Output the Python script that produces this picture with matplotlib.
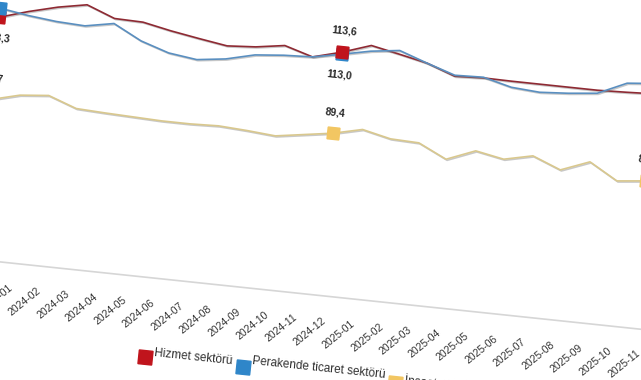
import matplotlib
matplotlib.use("Agg")
import matplotlib.pyplot as plt
import matplotlib.patheffects as pe
from matplotlib.transforms import Affine2D

plt.rcParams["font.family"] = ["Liberation Sans", "DejaVu Sans"]

months = ["2023-12", "2024-01", "2024-02", "2024-03", "2024-04", "2024-05",
          "2024-06", "2024-07", "2024-08", "2024-09", "2024-10", "2024-11",
          "2024-12", "2025-01", "2025-02", "2025-03", "2025-04", "2025-05",
          "2025-06", "2025-07", "2025-08", "2025-09", "2025-10", "2025-11"]

# sektorel guven endeksleri (okunan degerler)
hizmet = [113.3, 115.9, 118.1, 119.7, 116.5, 116.3, 114.6, 113.2, 111.9, 112.5,
          113.8, 111.3, 113.6, 116.5, 114.8, 113.0, 110.0, 110.4, 110.3, 110.3,
          110.3, 110.3, 110.6, 111.0]
perakende = [116.0, 114.7, 113.8, 113.4, 115.0, 110.7, 108.0, 106.9, 108.0, 110.1,
             110.9, 111.3, 113.0, 114.8, 115.9, 113.0, 110.3, 110.6, 108.5, 107.9,
             108.5, 109.4, 113.3, 114.1]
insaat = [88.7, 90.9, 91.7, 88.7, 88.3, 88.0, 87.7, 87.7, 88.0, 87.5,
          86.8, 88.1, 89.4, 91.4, 89.5, 89.2, 85.2, 88.6, 87.0, 88.9,
          85.6, 88.9, 84.1, 85.0]
label_idx = [0, 12, 23]

names = ["Hizmet sektörü", "Perakende ticaret sektörü", "İnşaat sektörü"]
line_colors = ["#8e2a33", "#5a8fc0", "#d9c88e"]
marker_colors = ["#c0141c", "#2f86c9", "#f2c662"]

fig = plt.figure(figsize=(6.41, 3.8), dpi=100)
ax = fig.add_axes([-40 / 641, 85 / 380, 720 / 641, 286 / 380])
ax.set_xlim(-0.8, 24.29)
ax.set_ylim(41, 126)
ax.axis("off")

# the source picture is a photo tilted ~6 degrees clockwise
tilt = Affine2D().rotate_deg_around(320.5, 190, -6)
tr = ax.transData + tilt

x = list(range(len(months)))
all_series = [hizmet, perakende, insaat]
shadow = [pe.SimpleLineShadow(offset=(0.8, -0.8), shadow_color="#777777", alpha=0.4), pe.Normal()]

# axis line
ax.plot(ax.get_xlim(), [ax.get_ylim()[0]] * 2, color="#d6d6d6", lw=1.2,
        transform=tr, clip_on=False)

for k, vals in enumerate(all_series):
    ax.plot(x, vals, color=line_colors[k], lw=1.2, transform=tr, clip_on=False,
            path_effects=shadow, zorder=2)

# markers + value labels: higher of hizmet/perakende on top, the other below
for i in label_idx:
    for k, vals in enumerate(all_series):
        if k == 2:
            up = True
        else:
            up = vals[i] >= all_series[1 - k][i]
        ax.plot([x[i]], [vals[i]], ls="none", marker=(4, 0, 39), ms=12,
                color=marker_colors[k], transform=tr, clip_on=False,
                zorder=4 if up else 3)
        dy = 21 if up else -21
        ax.text(x[i], vals[i], f"{vals[i]:.1f}".replace(".", ","),
                transform=ax.transData + Affine2D().translate(0, dy) + tilt,
                ha="center", va="center", rotation=-6, fontsize=7.5,
                fontweight="bold", color="#262626", clip_on=False)

# tick labels
tick_tr = ax.get_xaxis_transform() + Affine2D().translate(11, -23) + tilt
for i, m in enumerate(months):
    ax.text(x[i], 0, m, transform=tick_tr, rotation=39, ha="right", va="center",
            rotation_mode="anchor", fontsize=7.5, color="#333333")

# legend (bottom, tilted with the chart)
legend_x = [163, 262, 415]
legend_y = 6
for k, name in enumerate(names):
    ax.plot([legend_x[k]], [legend_y], ls="none", marker=(4, 0, 39), ms=14,
            color=marker_colors[k], transform=tilt, clip_on=False)
    ax.text(legend_x[k] + 9, legend_y, name, transform=tilt, ha="left",
            va="center", rotation=-6, fontsize=8.5, color="#303030")

fig.savefig("out.png", dpi=100)
